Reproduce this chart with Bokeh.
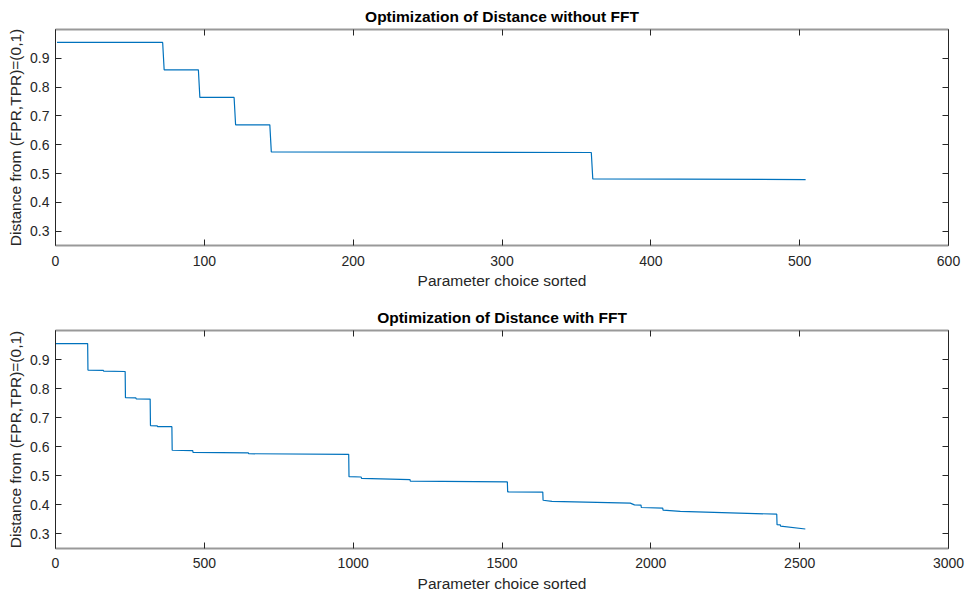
from bokeh.plotting import figure
from bokeh.models import LinearAxis, FixedTicker, Range1d
from bokeh.layouts import column
from bokeh.embed import file_html
from bokeh.resources import INLINE

# ---- data ----
top_title = "Optimization of Distance without FFT"
bottom_title = "Optimization of Distance with FFT"
x_label = "Parameter choice sorted"
y_label = "Distance from (FPR,TPR)=(0,1)"

top_x = [1, 72, 73, 96, 97, 120, 121, 144, 145, 360, 361, 504]
top_y = [0.955, 0.955, 0.860, 0.860, 0.764, 0.764, 0.669, 0.669, 0.575, 0.573, 0.481, 0.479]

bot_x = [1, 108, 109, 161, 162, 234, 235, 270, 271, 318, 319, 342, 343, 391, 392,
         461, 462, 648, 649, 985, 986, 1027, 1028, 1191, 1192, 1518, 1519, 1637,
         1638, 1668, 1931, 1945, 1967, 1968, 2040, 2041, 2099, 2423, 2424, 2435,
         2436, 2519]
bot_y = [0.955, 0.955, 0.864, 0.863, 0.860, 0.859, 0.769, 0.768, 0.765, 0.764, 0.673,
         0.672, 0.669, 0.669, 0.588, 0.587, 0.581, 0.579, 0.576, 0.574, 0.497, 0.496,
         0.491, 0.487, 0.482, 0.479, 0.445, 0.444, 0.416, 0.412, 0.406, 0.400, 0.399,
         0.391, 0.389, 0.382, 0.378, 0.368, 0.332, 0.331, 0.327, 0.317]

top_xticks = [0, 100, 200, 300, 400, 500, 600]
bot_xticks = [0, 500, 1000, 1500, 2000, 2500, 3000]
y_ticks = [0.3, 0.4, 0.5, 0.6, 0.7, 0.8, 0.9]
x_max_top = 600
x_max_bot = 3000
y_min, y_max = 0.25, 1.0

FONT = "Liberation Sans"
TXT = "#262626"
LINE_BLUE = "#0072BD"


def style_axis(ax, ticks, labels=True, line_color=TXT, line_width=1):
    ax.ticker = FixedTicker(ticks=ticks)
    ax.major_tick_in = 6
    ax.major_tick_out = 0
    ax.minor_tick_line_color = None
    ax.major_tick_line_color = TXT
    ax.axis_line_color = line_color
    ax.axis_line_width = line_width
    if labels:
        ax.major_label_text_font = FONT
        ax.major_label_text_font_size = "14px"
        ax.major_label_text_color = TXT
    else:
        ax.major_label_text_color = None
        ax.major_label_standoff = 0


def make_fig(title, xs, ys, xmax, xticks, top_b, bot_b, label_standoff, axis_label_standoff):
    p = figure(width=965, height=297, x_range=Range1d(0, xmax),
               y_range=Range1d(y_min, y_max), output_backend="svg",
               toolbar_location=None, min_border_left=55, min_border_right=17,
               min_border_top=top_b, min_border_bottom=bot_b, title=title)
    p.line(xs, ys, line_color=LINE_BLUE, line_width=1.2)
    p.grid.visible = False
    p.outline_line_color = None
    p.background_fill_color = "white"
    p.border_fill_color = "white"

    p.title.text_font = FONT
    p.title.text_font_size = "15.5px"
    p.title.text_font_style = "bold"
    p.title.text_color = "black"
    p.title.align = "center"

    xa = p.xaxis[0]
    style_axis(xa, xticks, line_color="#999999", line_width=2)
    xa.major_label_standoff = label_standoff
    xa.axis_label = x_label
    xa.axis_label_text_font = FONT
    xa.axis_label_text_font_size = "15.5px"
    xa.axis_label_text_font_style = "normal"
    xa.axis_label_text_color = TXT
    xa.axis_label_standoff = axis_label_standoff

    ya = p.yaxis[0]
    style_axis(ya, y_ticks)
    ya.major_label_standoff = 6
    ya.axis_label = y_label
    ya.axis_label_text_font = FONT
    ya.axis_label_text_font_size = "15.5px"
    ya.axis_label_text_font_style = "normal"
    ya.axis_label_text_color = TXT
    ya.axis_label_standoff = 3

    top_ax = LinearAxis()
    style_axis(top_ax, xticks, labels=False, line_color="#999999", line_width=2)
    p.add_layout(top_ax, "above")

    right_ax = LinearAxis()
    style_axis(right_ax, y_ticks, labels=False)
    p.add_layout(right_ax, "right")
    return p


p1 = make_fig(top_title, top_x, top_y, x_max_top, top_xticks, 27, 52, 10, 3)
p2 = make_fig(bottom_title, bot_x, bot_y, x_max_bot, bot_xticks, 33, 46, 9, 4)

layout = column(p1, p2, spacing=0)
open("out.html", "w").write(file_html(layout, INLINE))
